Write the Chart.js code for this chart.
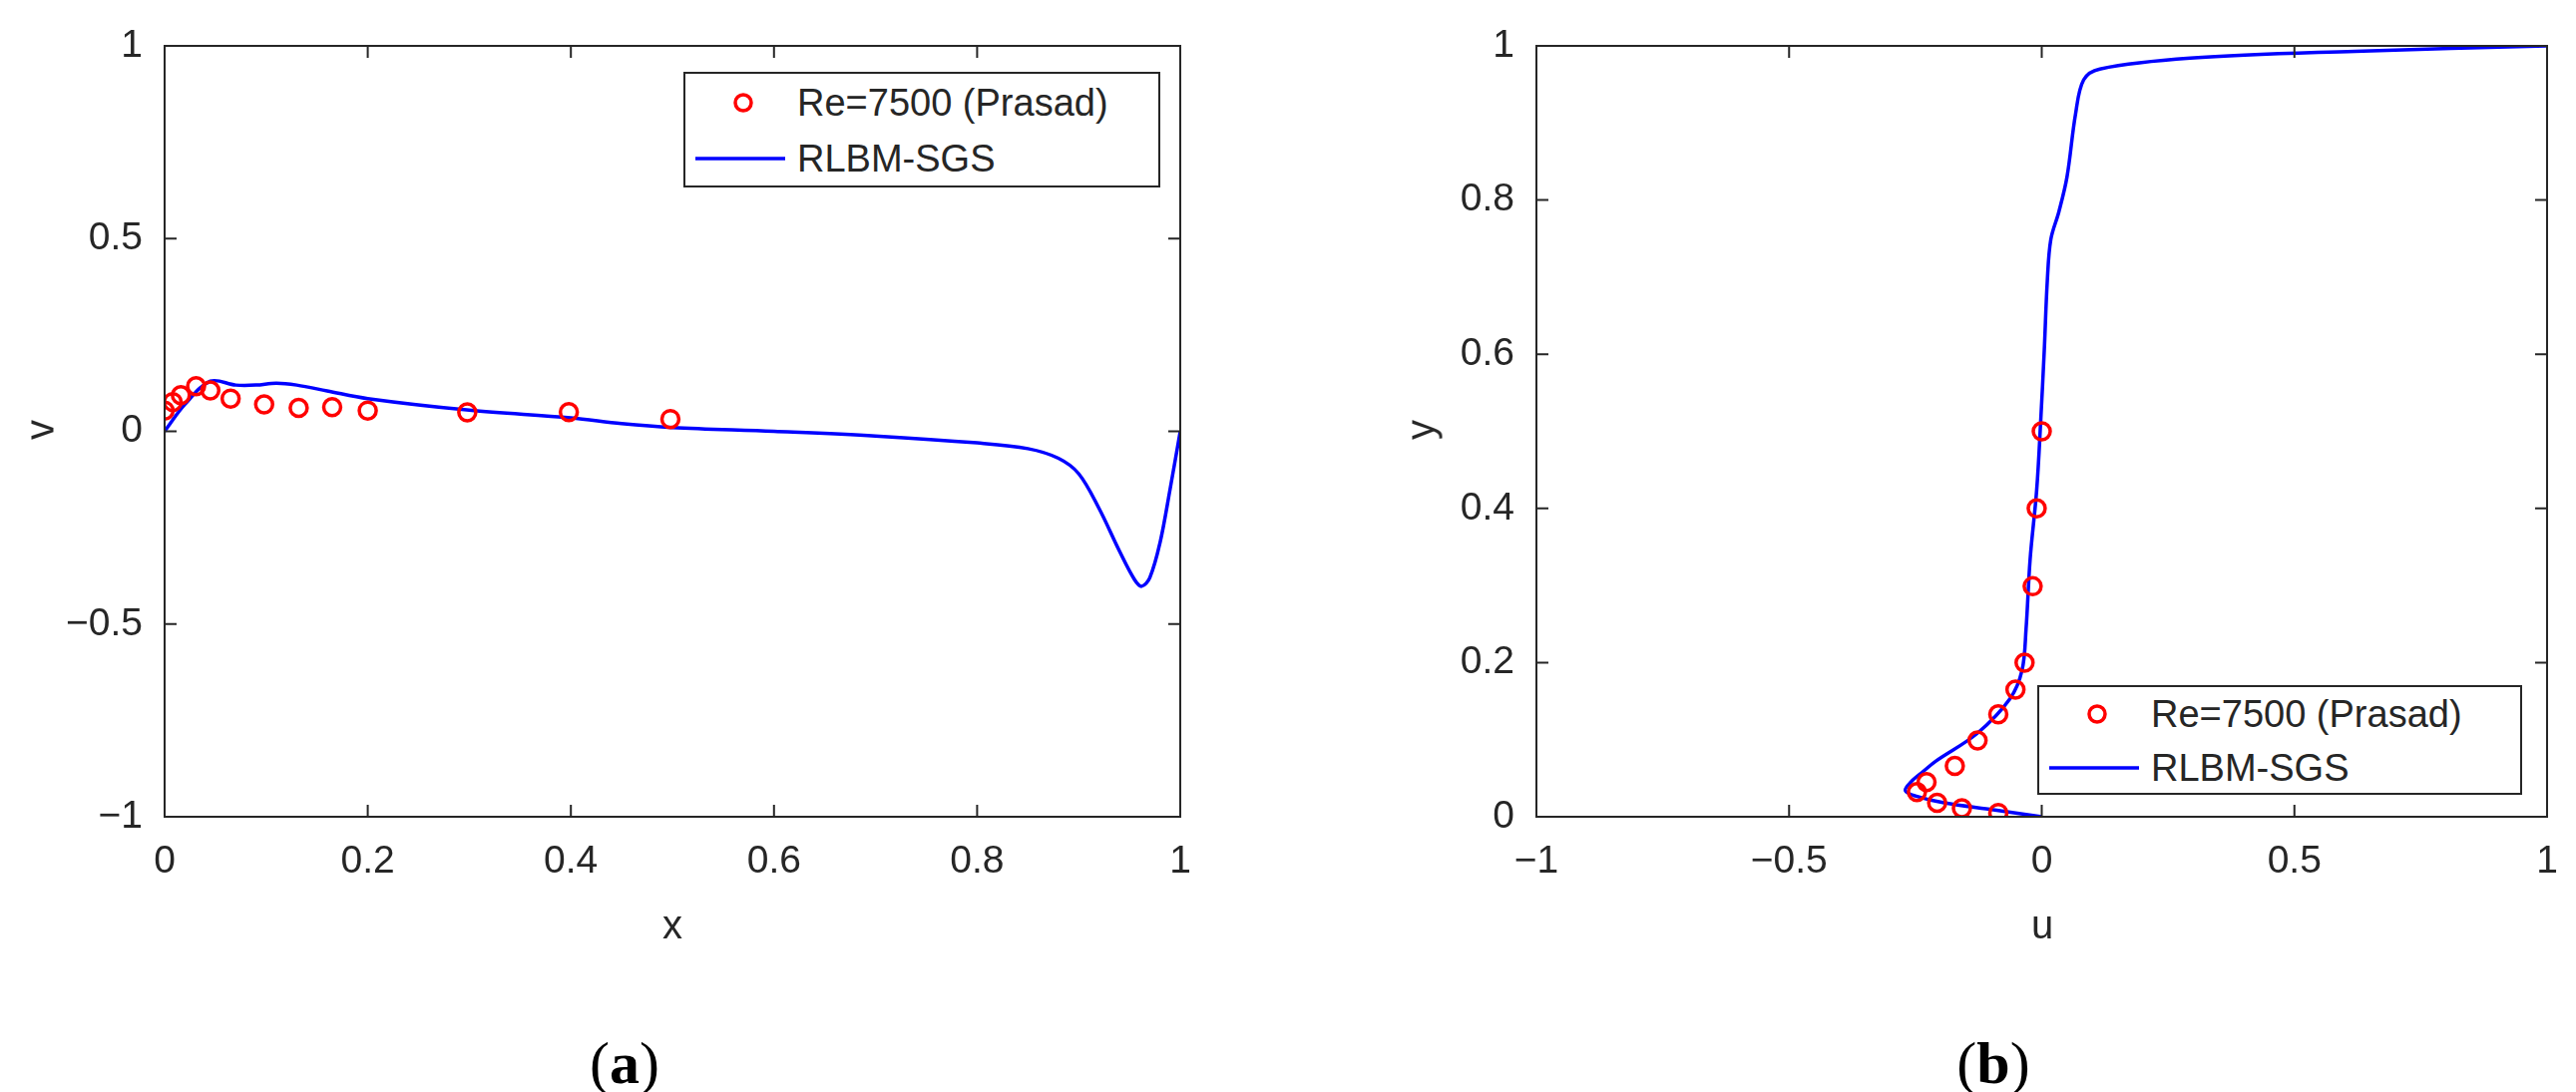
<!DOCTYPE html>
<html><head><meta charset="utf-8">
<script src="https://cdn.jsdelivr.net/npm/chart.js@4/dist/chart.umd.min.js"></script>
<style>
body{margin:0;background:#fff;width:2582px;height:1095px;position:relative;overflow:hidden;font-family:"Liberation Sans",Arial,sans-serif;color:#262626}
canvas{position:absolute;top:0}
.t{position:absolute;font-size:40px;transform:translate(-50%,-50%);white-space:nowrap}
.cap{position:absolute;font-family:"Liberation Serif","DejaVu Serif",serif;font-size:60px;transform:translate(-50%,-50%);color:#000}
.cap b{font-weight:bold}
.leg{position:absolute;border:2px solid #262626;background:#fff;font-size:38px;box-sizing:border-box}
.row{position:absolute;left:0;height:46px;display:flex;align-items:center}
.row svg{width:100px;height:40px}
</style></head><body>
<canvas id="c1"></canvas><canvas id="c2"></canvas>
<div class="t" style="left:40px;top:431px;transform:translate(-50%,-50%) rotate(-90deg)">v</div>
<div class="t" style="left:674px;top:927px">x</div>
<div class="t" style="left:1424px;top:431px;transform:translate(-50%,-50%) rotate(-90deg)">y</div>
<div class="t" style="left:2047px;top:927px">u</div>
<div class="cap" style="left:626px;top:1066px">(<b>a</b>)</div>
<div class="cap" style="left:1998px;top:1066px">(<b>b</b>)</div>
<div class="leg" style="left:685px;top:72px;width:478px;height:116px">
 <div class="row" style="top:6px"><svg><circle cx="58" cy="20" r="8" fill="none" stroke="#ff0000" stroke-width="3.5"/></svg><span style="margin-left:12px">Re=7500 (Prasad)</span></div>
 <div class="row" style="top:62px"><svg><line x1="10" y1="20" x2="102" y2="20" stroke="#0000ff" stroke-width="3.5"/></svg><span style="margin-left:12px">RLBM-SGS</span></div>
</div>
<div class="leg" style="left:2042px;top:687px;width:486px;height:110px">
 <div class="row" style="top:4px"><svg><circle cx="58" cy="20" r="8" fill="none" stroke="#ff0000" stroke-width="3.5"/></svg><span style="margin-left:12px">Re=7500 (Prasad)</span></div>
 <div class="row" style="top:58px"><svg><line x1="10" y1="20" x2="102" y2="20" stroke="#0000ff" stroke-width="3.5"/></svg><span style="margin-left:12px">RLBM-SGS</span></div>
</div>
<script>
// Panel (a): v along x
const refAX=[0.0,0.008,0.016,0.031,0.045,0.065,0.098,0.132,0.165,0.2,0.298,0.398,0.498];
const refAV=[0.054,0.076,0.094,0.117,0.106,0.085,0.07,0.061,0.063,0.054,0.049,0.05,0.032];
const simAX=[0,0.02,0.045,0.07,0.09,0.11,0.13,0.16,0.2,0.3,0.4,0.45,0.5,0.6,0.7,0.8,0.85,0.88,0.9,0.92,0.94,0.955,0.962,0.97,0.98,0.99,1.0];
const simAV=[0,0.07,0.13,0.12,0.12,0.125,0.12,0.105,0.085,0.055,0.035,0.02,0.01,0.0,-0.012,-0.03,-0.045,-0.07,-0.11,-0.2,-0.31,-0.385,-0.402,-0.38,-0.29,-0.15,0];
// Panel (b): u along y
const refBU=[0,-0.01,-0.018,-0.034,-0.052,-0.086,-0.127,-0.172,-0.228,-0.247,-0.207,-0.158,-0.086];
const refBY=[0.5,0.4,0.299,0.2,0.165,0.133,0.099,0.066,0.045,0.032,0.018,0.011,0.005];
const simBU=[0,-0.096,-0.193,-0.25,-0.27,-0.259,-0.234,-0.21,-0.128,-0.063,-0.039,-0.031,-0.023,-0.01,-0.002,0.005,0.011,0.018,0.034,0.05,0.067,0.083,0.115,0.294,0.62,1];
const simBY=[0,0.009,0.018,0.027,0.034,0.045,0.059,0.072,0.108,0.153,0.19,0.244,0.334,0.424,0.514,0.605,0.695,0.749,0.785,0.83,0.912,0.956,0.97,0.984,0.993,1];
const ticksA_X=[0,0.2,0.4,0.6,0.8,1], ticksA_Y=[-1,-0.5,0,0.5,1];
const ticksB_X=[-1,-0.5,0,0.5,1], ticksB_Y=[0,0.2,0.4,0.6,0.8,1];

const pts=(a,b)=>a.map((v,i)=>({x:v,y:b[i]}));
const fmt=v=>{v=Math.round(v*10)/10;return v===0?'0':String(v).replace('-','\u2212');};
const boxPlugin={id:'box',afterDraw(ch){
 const c=ch.ctx,a=ch.chartArea,L=12;c.save();c.strokeStyle='#262626';c.lineWidth=2;
 c.strokeRect(a.left,a.top,a.right-a.left,a.bottom-a.top);c.beginPath();
 ch.scales.x.ticks.forEach(t=>{const p=ch.scales.x.getPixelForValue(t.value);c.moveTo(p,a.bottom);c.lineTo(p,a.bottom-L);c.moveTo(p,a.top);c.lineTo(p,a.top+L);});
 ch.scales.y.ticks.forEach(t=>{const p=ch.scales.y.getPixelForValue(t.value);c.moveTo(a.left,p);c.lineTo(a.left+L,p);c.moveTo(a.right,p);c.lineTo(a.right-L,p);});
 c.stroke();c.restore();}};
function make(id,left,width,yW,rightPad,refs,sim,xt,yt){
 const cv=document.getElementById(id);cv.style.left=left+'px';cv.style.width=width+'px';cv.style.height='1095px';cv.width=width;cv.height=1095;
 const font={family:'"Liberation Sans", Arial, sans-serif',size:39};
 new Chart(cv,{type:'scatter',data:{datasets:[
  {data:refs,showLine:false,pointStyle:'circle',pointRadius:8.5,borderColor:'#ff0000',backgroundColor:'rgba(0,0,0,0)',pointBorderWidth:3.5,order:0},
  {data:sim,showLine:true,pointRadius:0,borderColor:'#0000ff',borderWidth:3.5,tension:0.35,order:1}]},
 options:{responsive:false,animation:false,devicePixelRatio:1,
  layout:{padding:{top:46,right:rightPad,left:0,bottom:0}},
  plugins:{legend:{display:false},tooltip:{enabled:false}},
  scales:{
   x:{type:'linear',min:xt[0],max:xt[xt.length-1],grid:{display:false},border:{display:false},
      afterBuildTicks:s=>{s.ticks=xt.map(v=>({value:v}));},
      ticks:{font,color:'#262626',padding:14,maxRotation:0,callback:fmt},afterFit:s=>{s.height=276;}},
   y:{type:'linear',min:yt[0],max:yt[yt.length-1],grid:{display:false},border:{display:false},
      afterBuildTicks:s=>{s.ticks=yt.map(v=>({value:v}));},
      ticks:{font,color:'#262626',padding:14,callback:fmt},afterFit:s=>{s.width=yW;}}}},
 plugins:[boxPlugin]});
}
make('c1',0,1290,165,107,pts(refAX,refAV),pts(simAX,simAV),ticksA_X,ticksA_Y);
make('c2',1290,1292,250,29,pts(refBU,refBY),pts(simBU,simBY),ticksB_X,ticksB_Y);
</script></body></html>
